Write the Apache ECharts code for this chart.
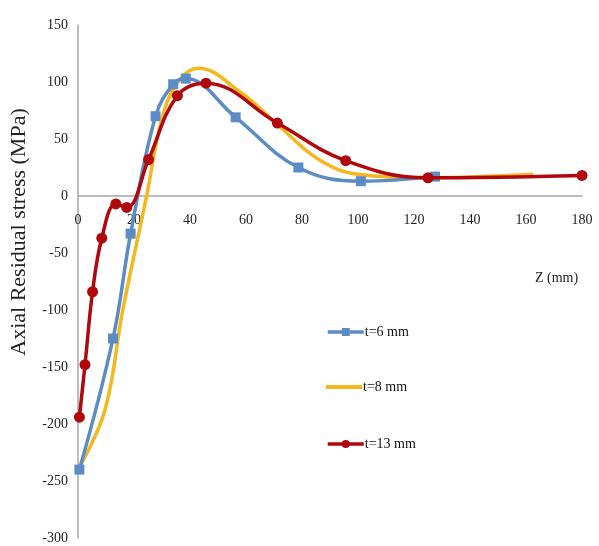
<!DOCTYPE html>
<html>
<head>
<meta charset="utf-8">
<script src="https://cdn.jsdelivr.net/npm/echarts@6/dist/echarts.min.js"></script>
<style>html,body{margin:0;padding:0;background:#fff;}#c{width:599px;height:546px;}</style>
</head>
<body>
<div id="c"></div>
<script>
var seriesNames = ['t=6 mm', 't=8 mm', 't=13 mm'];
var t6 = [[0.5,-240],[12.5,-125],[18.8,-33],[27.7,70],[34,98],[38.5,103],[56.3,69],[78.7,25],[101,13],[127.5,17]];
var t8 = [[0.7,-237],[9.6,-188],[16,-100],[24.5,0],[30,68],[36,101],[43,112],[58,91],[72,61],[86,32],[100,19],[125,16],[162.5,19]];
var t13 = [[0.5,-194],[2.5,-148],[5.2,-84],[8.5,-37],[13.5,-7],[17.4,-10],[25.2,32],[35.5,88],[45.7,99],[71.2,64],[95.6,31],[125,16],[180,18]];
var xTicks = [0,20,40,60,80,100,120,140,160,180];
var yTicks = [-300,-250,-200,-150,-100,-50,0,50,100,150];
var yTitle = 'Axial Residual stress (MPa)';
var xTitle = 'Z (mm)';

var font = '"Liberation Serif", "Times New Roman", serif';
var colors = ['#5b8cc6', '#f4b81c', '#b0080c'];
var gridTop = 25, gridBottom = 8, chartH = 546;
var plotH = chartH - gridTop - gridBottom;
var zeroFromBottom = plotH * (0 - yTicks[0]) / (yTicks[yTicks.length-1] - yTicks[0]);

function legendFor(i, top, extra) {
  return Object.assign({
    orient: 'vertical', left: 321, top: top, itemWidth: 36, itemHeight: 10,
    lineStyle: {width: 3.5},
    textStyle: {fontFamily: font, fontSize: 14, color: '#111', padding: [0,0,0,-4]},
    data: [seriesNames[i]]
  }, extra || {});
}

var chart = echarts.init(document.getElementById('c'));
chart.setOption({
  animation: false,
  backgroundColor: '#fff',
  grid: {left: 78, right: 17, top: gridTop, bottom: gridBottom, containLabel: false, outerBoundsMode: 'none'},
  xAxis: {
    type: 'value', min: xTicks[0], max: xTicks[xTicks.length-1], interval: 20,
    offset: -zeroFromBottom,
    axisLine: {onZero: false, lineStyle: {color: '#a6a6a6', width: 1.5}},
    axisTick: {show: false}, splitLine: {show: false},
    axisLabel: {fontFamily: font, fontSize: 14, color: '#222', margin: 17}
  },
  yAxis: {
    type: 'value', min: yTicks[0], max: yTicks[yTicks.length-1], interval: 50,
    axisLine: {show: true, lineStyle: {color: '#a6a6a6', width: 1.5}},
    axisTick: {show: false}, splitLine: {show: false},
    axisLabel: {fontFamily: font, fontSize: 14, color: '#222', margin: 10}
  },
  legend: [
    legendFor(0, 320),
    legendFor(1, 375, {data: [{name: seriesNames[1], icon: 'rect'}], itemHeight: 4}),
    legendFor(2, 432)
  ],
  graphic: [
    {type: 'text', left: 535, top: 271, style: {text: xTitle, font: '14px ' + font, fill: '#222'}},
    {type: 'text', x: 19, y: 232, rotation: Math.PI / 2,
     style: {text: yTitle, font: '22px ' + font, fill: '#222', align: 'center', verticalAlign: 'middle'}}
  ],
  series: [
    {name: seriesNames[0], type: 'line', data: t6, smooth: 0.4, symbol: 'rect', symbolSize: 10,
     lineStyle: {color: colors[0], width: 3.5}, itemStyle: {color: colors[0]}, z: 3},
    {name: seriesNames[1], type: 'line', data: t8, smooth: 0.4, symbol: 'none', showSymbol: false,
     lineStyle: {color: colors[1], width: 3.5}, itemStyle: {color: colors[1]}, z: 2},
    {name: seriesNames[2], type: 'line', data: t13, smooth: 0.4, symbol: 'circle', symbolSize: 11,
     lineStyle: {color: colors[2], width: 3.5}, itemStyle: {color: colors[2]}, z: 4}
  ]
});
</script>
</body>
</html>
